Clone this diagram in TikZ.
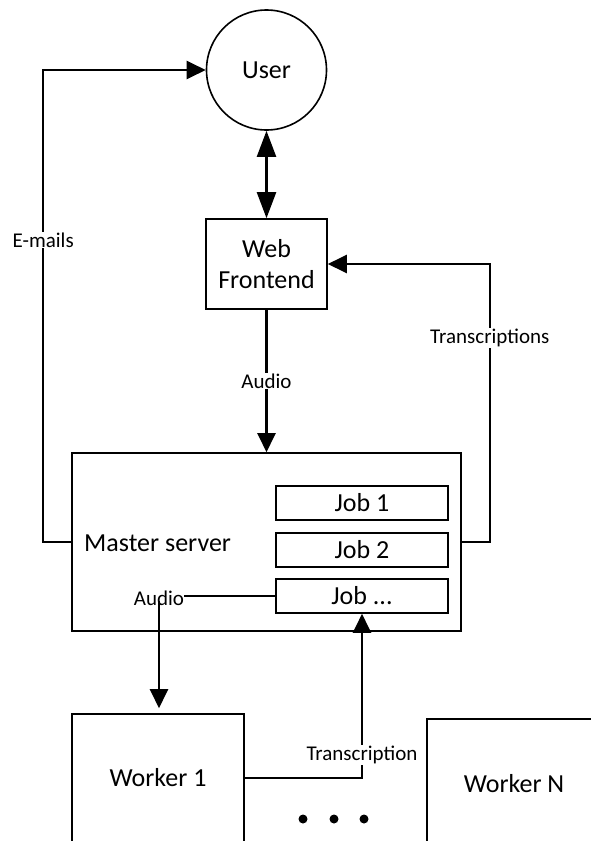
\documentclass[tikz,border=0pt]{standalone}
\usepackage{fontspec}
\setmainfont{Carlito}
\usetikzlibrary{arrows.meta}

\begin{document}
\begin{tikzpicture}[x=1pt,y=-1pt,
  bigtext/.style={font=\fontsize{26}{31}\selectfont},
  smalltext/.style={font=\fontsize{21}{25}\selectfont},
  boxnode/.style={draw, line width=1.6pt, inner sep=0pt, bigtext, align=center},
  jobbox/.style={boxnode, minimum width=172pt, minimum height=34pt},
  conn/.style={line width=2.3pt},
  tip/.style={-{Triangle[length=19pt,width=18pt]}},
  lbl/.style={smalltext, fill=white, inner sep=1pt},
  dot/.style={circle, fill=black, inner sep=0pt, minimum size=9pt}
]
\useasboundingbox (0,0) rectangle (591,841);
\clip (0,0) rectangle (591,841);

% user and web frontend
\node[boxnode, circle, minimum size=120pt] (user) at (266.5,70) {User};
\node[boxnode, minimum width=121pt, minimum height=90pt] (web) at (266.5,264) {Web\\Frontend};

% master server with its job queue
\node[boxnode, minimum width=389pt, minimum height=178pt] (ms) at (266.5,542) {};
\node[bigtext, anchor=west, inner sep=0pt] (mstext) at (84,543) {Master server};
\node[jobbox] (job1) at (362,503) {Job 1};
\node[jobbox] (job2) at (362,550) {Job 2};
\node[jobbox] (job3) at (362,596) {Job ...};
\node[smalltext, inner sep=0pt] (audio2) at (159,598) {Audio};

% workers (their boxes run off the lower and right edges)
\node[boxnode, minimum width=172pt, minimum height=128pt] (w1) at (158,778) {Worker 1};
\node[boxnode, minimum width=174pt, minimum height=130pt] (wn) at (514,784) {Worker N};
\node[dot] (d1) at (303,819) {};
\node[dot] (d2) at (334,819) {};
\node[dot] (d3) at (364,819) {};

% connectors
\draw[conn, {Triangle[length=26pt,width=19pt]}-{Triangle[length=26pt,width=19pt]}] (user.south) -- (web.north);
\draw[conn, tip] (web.south) -- node[lbl] (audio1) {Audio} (ms.north);
\draw[conn, tip] (ms.west) -- ++(-28,0) |- node[lbl, pos=0.32] (emails) {E-mails} (user.west);
\draw[conn, tip] (ms.east) -- ++(28,0) |- node[lbl, pos=0.367] (trs) {Transcriptions} (web.east);
\draw[conn] (job3.west) -- (job3.west -| audio2.east);
\draw[conn, tip] ([yshift=5pt]audio2.south) -- ([yshift=5pt]audio2.south |- w1.north);
\draw[conn, tip] (w1.east) -| node[lbl, pos=0.57] (tr) {Transcription} (job3.south);
\end{tikzpicture}
\end{document}
